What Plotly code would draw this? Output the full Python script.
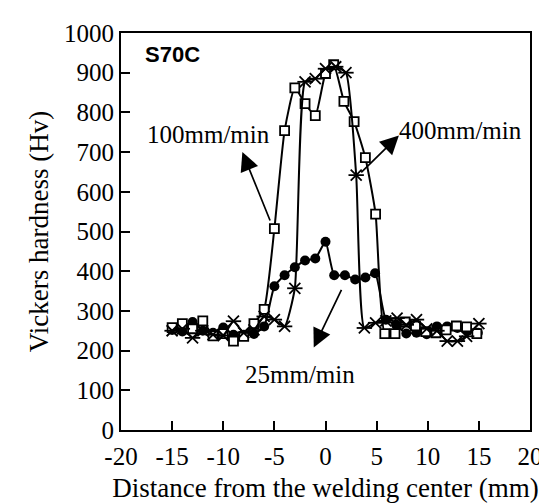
import plotly.graph_objects as go

# 100 mm/min (open squares)
x100 = [-15, -14, -13, -12, -11, -10, -9, -8, -7, -6, -5, -4, -3, -2, -1, 0, 0.8, 1.8, 2.8, 3.9, 4.9,
        5.8, 6.8, 7.8, 8.8, 9.8, 10.8, 11.8, 12.8, 13.8, 14.8]
y100 = [258, 268, 255, 275, 237, 243, 224, 236, 268, 304, 507, 754, 862, 822, 792, 898, 920, 828, 777, 686, 544,
        243, 243, 272, 262, 248, 245, 252, 262, 260, 243]

# 400 mm/min (asterisks)
x400 = [-15, -14, -13, -12, -11, -10, -9, -8, -7, -6, -5, -4, -3, -2, -1, 0, 1, 2, 3, 3.8, 4.9,
        5.9, 7.0, 7.9, 8.9, 9.9, 10.9, 11.9, 12.9, 13.8, 15.0]
y400 = [250, 255, 232, 250, 240, 238, 274, 245, 252, 286, 278, 261, 357, 877, 885, 910, 915, 900, 642, 257, 270,
        275, 282, 265, 278, 255, 250, 224, 224, 236, 268]

# 25 mm/min (filled circles)
x25 = [-15, -14, -13, -12, -11, -10, -9, -8, -7, -6, -5, -4, -3, -2, -1, 0, 0.85, 1.9, 2.9, 3.9, 4.85,
       5.9, 6.9, 7.9, 8.9, 9.9, 10.9, 11.9, 12.9, 13.9, 14.9]
y25 = [252, 248, 272, 250, 245, 258, 240, 240, 242, 261, 362, 390, 410, 427, 432, 474, 390, 390, 379, 384, 395,
       278, 265, 243, 245, 241, 261, 261, 257, 250, 245]

x_ticks = [-20, -15, -10, -5, 0, 5, 10, 15, 20]
y_ticks = [0, 100, 200, 300, 400, 500, 600, 700, 800, 900, 1000]

SERIF = "Liberation Serif, Times New Roman, serif"
line = dict(color="black", width=2, shape="spline", smoothing=0.5)

fig = go.Figure()
fig.add_trace(go.Scatter(x=x25, y=y25, mode="lines+markers", line=line,
                         marker=dict(symbol="circle", size=10, color="black"), name="25mm/min"))
fig.add_trace(go.Scatter(x=x100, y=y100, mode="lines+markers", line=line,
                         marker=dict(symbol="square", size=9, color="white",
                                     line=dict(color="black", width=1.8)), name="100mm/min"))
fig.add_trace(go.Scatter(x=x400, y=y400, mode="lines+markers", line=line,
                         marker=dict(symbol="x-thin-open", size=11, color="black",
                                     line=dict(color="black", width=1.8)), name="400mm/min"))
fig.add_trace(go.Scatter(x=x400, y=y400, mode="markers",
                         marker=dict(symbol="line-ew-open", size=11, color="black",
                                     line=dict(color="black", width=1.8)), showlegend=False))

ann = []
ann.append(dict(x=-15.0, y=945, text="<b>S70C</b>", showarrow=False,
                font=dict(family="Liberation Sans, Arial, sans-serif", size=22, color="black")))
ann.append(dict(x=-11.4, y=745, text="100mm/min", showarrow=False,
                font=dict(family=SERIF, size=25, color="black")))
ann.append(dict(x=13.2, y=754, text="400mm/min", showarrow=False,
                font=dict(family=SERIF, size=25, color="black")))
ann.append(dict(x=-2.5, y=140, text="25mm/min", showarrow=False,
                font=dict(family=SERIF, size=25, color="black")))
arrows = [((-8.13, 700), (-5.36, 524)), ((7.18, 742), (3.35, 645)), ((-1.15, 208), (1.63, 357))]
for (hx, hy), (tx, ty) in arrows:
    ann.append(dict(x=hx, y=hy, ax=tx, ay=ty, axref="x", ayref="y", xref="x", yref="y",
                    text="", showarrow=True, arrowhead=2, arrowsize=2.2, arrowwidth=1.7,
                    arrowcolor="black", standoff=0, startstandoff=0))

fig.update_layout(
    width=547, height=504,
    margin=dict(l=113, r=16, t=19, b=82),
    paper_bgcolor="white", plot_bgcolor="white",
    showlegend=False,
    annotations=ann,
    font=dict(family=SERIF, size=25, color="black"),
)
fig.update_xaxes(range=[-20, 20], tickvals=x_ticks, ticktext=[str(v) for v in x_ticks],
                 ticks="inside", ticklen=9, tickwidth=2, tickcolor="black",
                 showline=True, linewidth=2, linecolor="black", mirror=True,
                 showgrid=False, zeroline=False, ticklabelstandoff=3,
                 tickfont=dict(family=SERIF, size=25),
                 title=dict(text="Distance from the welding center (mm)", font=dict(family=SERIF, size=27),
                            standoff=9))
fig.update_yaxes(range=[0, 1000], tickvals=y_ticks, ticktext=[str(v) for v in y_ticks],
                 ticks="inside", ticklen=9, tickwidth=2, tickcolor="black",
                 showline=True, linewidth=2, linecolor="black", mirror=True,
                 showgrid=False, zeroline=False,
                 tickfont=dict(family=SERIF, size=25),
                 title=dict(text="Vickers hardness (Hv)", font=dict(family=SERIF, size=27), standoff=8))

fig.write_html("out.html")
